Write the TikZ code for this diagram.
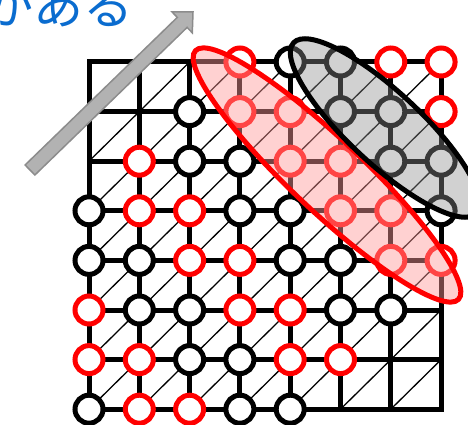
\documentclass[tikz,border=0pt]{standalone}
\usepackage{fontspec}
\newfontfamily\jpfont{Noto Sans CJK JP}
\definecolor{textblue}{RGB}{10,108,207}

\begin{document}
\begin{tikzpicture}[x=1pt,y=-1pt,
  bk/.style={circle,draw=black,fill=white,line width=5pt,minimum size=28pt,inner sep=0pt},
  rd/.style={bk,draw=red},
  nn/.style={shape=coordinate},
  gridline/.style={line width=5pt,line cap=rect},
  diag/.style={line width=1.3pt},
  redzone/.style={draw=red,line width=5pt,fill=red!40,fill opacity=0.45},
  grayzone/.style={draw=black,line width=5pt,fill=black!45,fill opacity=0.4},
  arrowbody/.style={draw=black!45,line width=1.5pt,fill=black!30}]
\clip (0,0) rectangle (468,425);

% lattice points
\foreach \i in {0,...,7}
  \foreach \j in {0,...,7}
    \coordinate (G\i\j) at (89+50.3*\i,62+49.6*\j);

% thin diagonals
\foreach \i in {0,...,6}
  \foreach \j in {1,...,7} {
    \pgfmathtruncatemacro\ii{\i+1}
    \pgfmathtruncatemacro\jj{\j-1}
    \draw[diag] (G\i\j) -- (G\ii\jj);
  }

% grid
\foreach \i in {0,...,7} {
  \draw[gridline] (G\i0) -- (G\i7);
  \draw[gridline] (G0\i) -- (G7\i);
}

% sites
\foreach \row [count=\j from 0] in {
    {nn,nn,nn,rd,bk,bk,rd,rd},
    {nn,nn,bk,rd,rd,bk,bk,rd},
    {nn,rd,bk,bk,rd,rd,bk,bk},
    {bk,rd,rd,bk,bk,rd,rd,bk},
    {bk,bk,rd,rd,bk,bk,rd,rd},
    {rd,bk,bk,rd,rd,bk,bk,nn},
    {rd,rd,bk,bk,rd,rd,nn,nn},
    {bk,rd,rd,bk,bk,nn,nn,nn}}
  \foreach \s [count=\i from 0] in \row
    \node[\s] (N\i\j) at (G\i\j) {};

% groups
\draw[redzone] (327,175) circle [x radius=181, y radius=36, rotate=-43.4];
\draw[grayzone] (385,128) circle [x radius=125, y radius=36, rotate=-43];

% direction
\draw[arrowbody] (25.1,165.0) -- (177.3,17.4) -- (172.1,12.0) -- (193,12)
  -- (192.3,32.8) -- (187.1,27.4) -- (34.9,175.0) -- cycle;

\node[anchor=base east,inner sep=0pt,text=textblue,
  font=\jpfont\fontsize{50}{50}\selectfont] (T) at (134,25) {かある};
\end{tikzpicture}
\end{document}
